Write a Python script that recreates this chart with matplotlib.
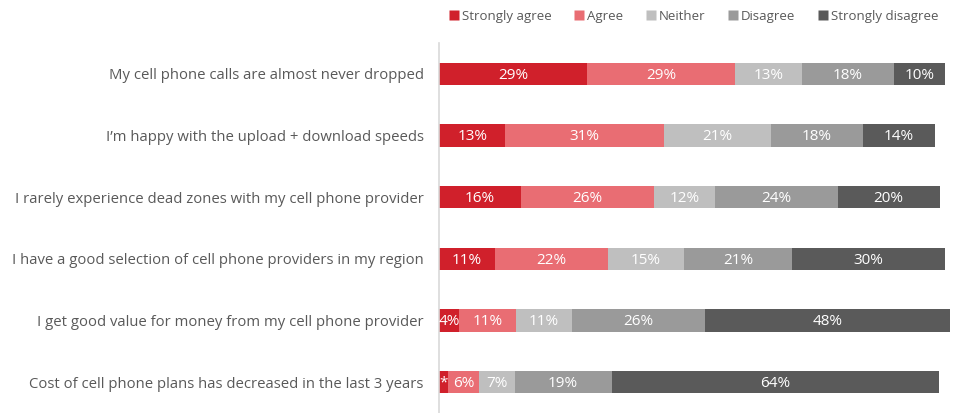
import numpy as np
import matplotlib.pyplot as plt
from matplotlib.lines import Line2D

statements = [
    "My cell phone calls are almost never dropped",
    "I\u2019m happy with the upload + download speeds",
    "I rarely experience dead zones with my cell phone provider",
    "I have a good selection of cell phone providers in my region",
    "I get good value for money from my cell phone provider",
    "Cost of cell phone plans has decreased in the last 3 years",
]
responses = ["Strongly agree", "Agree", "Neither", "Disagree", "Strongly disagree"]

strongly_agree = [29, 13, 16, 11, 4, 1.8]
agree = [29, 31, 26, 22, 11, 6]
neither = [13, 21, 12, 15, 11, 7]
disagree = [18, 18, 24, 21, 26, 19]
strongly_disagree = [10, 14, 20, 30, 48, 64]

labels_sa = ["29%", "13%", "16%", "11%", "4%", "*"]

colors = ["#d0202b", "#e96d73", "#bfbfbf", "#9a9a9a", "#5a5a5a"]
text_color = "#595959"

plt.rcParams["font.family"] = ["Open Sans", "DejaVu Sans"]

fig = plt.figure(figsize=(9.6, 4.13), dpi=100)
ax = fig.add_axes([439 / 960, 0, 511 / 960, 1 - 43 / 413])

series = [strongly_agree, agree, neither, disagree, strongly_disagree]
y = np.arange(len(statements))
left = np.zeros(len(statements))
for i, vals in enumerate(series):
    vals = np.array(vals, dtype=float)
    ax.barh(y, vals, left=left, height=0.36, color=colors[i], edgecolor="none")
    for j, v in enumerate(vals):
        if i == 0:
            lab = labels_sa[j]
        else:
            lab = "{:.0f}%".format(v)
        ax.text(left[j] + v / 2, y[j] + 0.02, lab, ha="center", va="center",
                color="white", fontsize=11)
    left += vals

ax.set_xlim(0, 100)
ax.set_ylim(len(statements) - 0.5, -0.5)
ax.set_yticks(y)
ax.set_yticklabels(statements, fontsize=10.7, color=text_color)
ax.tick_params(axis="y", length=0, pad=11)
ax.set_xticks([])
for s in ["top", "right", "bottom"]:
    ax.spines[s].set_visible(False)
ax.spines["left"].set_color("#d9d9d9")
ax.spines["left"].set_linewidth(1.2)

handles = [Line2D([], [], marker="s", linestyle="none", markersize=7,
                  markerfacecolor=c, markeredgecolor="none") for c in colors]
leg = fig.legend(handles, responses, loc="upper right", ncol=5,
                 bbox_to_anchor=(0.99, 1.005), frameon=False, fontsize=9.5,
                 handletextpad=0.1, columnspacing=1.6, handlelength=1.0)
for t in leg.get_texts():
    t.set_color(text_color)

fig.savefig("out.png", dpi=100)
